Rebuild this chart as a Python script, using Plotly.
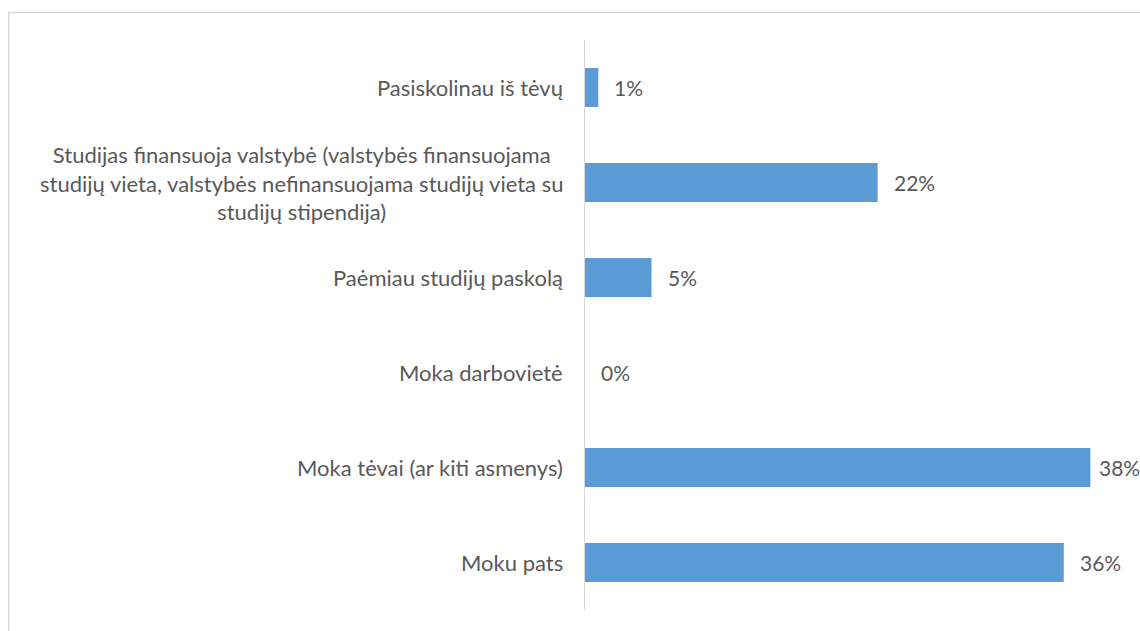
import plotly.graph_objects as go

categories = [
    "Pasiskolinau iš tėvų",
    "Studijas finansuoja valstybė (valstybės finansuojama<br>studijų vieta, valstybės nefinansuojama studijų vieta su<br>studijų stipendija)",
    "Paėmiau studijų paskolą",
    "Moka darbovietė",
    "Moka tėvai (ar kiti asmenys)",
    "Moku pats",
]
values = [1, 22, 5, 0, 38, 36]
value_labels = ["1%", "22%", "5%", "0%", "38%", "36%"]

W, H = 1140, 631
ML, MR, MT, MB = 585, 23, 40, 21
XMAX = 40
pw = W - ML - MR
ph = H - MT - MB

FONT = "Lato, Open Sans, sans-serif"
TXT = "#595959"

fig = go.Figure()
fig.add_trace(go.Bar(
    x=values, y=categories, orientation="h",
    marker=dict(color="#5B9BD5", line=dict(width=0)),
    hoverinfo="skip",
))

annotations = []
for c in categories:
    annotations.append(dict(
        x=0, xref="paper", y=c, yref="y", xanchor="right", yanchor="middle",
        xshift=-20, text=c, showarrow=False, align="center",
        font=dict(family=FONT, size=22, color=TXT),
    ))
for v, t, c in zip(values, value_labels, categories):
    lx = min(v + 14 * XMAX / pw, 38.5)
    annotations.append(dict(
        x=lx, xref="x", y=c, yref="y", xanchor="left", yanchor="middle",
        text=t, showarrow=False,
        font=dict(family=FONT, size=21, color=TXT),
    ))

# chart border (top and left visible)
shapes = [dict(
    type="rect", xref="paper", yref="paper",
    x0=(8.75 - ML) / pw, x1=(W + 10 - ML) / pw,
    y0=(H - MB - (H + 10)) / ph, y1=(H - MB - 12.5) / ph,
    line=dict(color="#D9D9D9", width=1.5), fillcolor="rgba(0,0,0,0)",
    layer="below",
)]

fig.update_layout(
    width=W, height=H,
    margin=dict(l=ML, r=MR, t=MT, b=MB, pad=0),
    paper_bgcolor="white", plot_bgcolor="white",
    bargap=0.59,
    showlegend=False,
    annotations=annotations,
    shapes=shapes,
    xaxis=dict(range=[0, XMAX], showgrid=False, zeroline=False,
               showticklabels=False, showline=False, ticks=""),
    yaxis=dict(autorange="reversed", showgrid=False, zeroline=False,
               showticklabels=False, showline=True, linecolor="#D9D9D9",
               linewidth=1, ticks=""),
)

fig.write_html(
    "out.html",
    config={"displayModeBar": False},
    post_script="document.body.style.margin='0';document.body.style.overflow='hidden';",
)
